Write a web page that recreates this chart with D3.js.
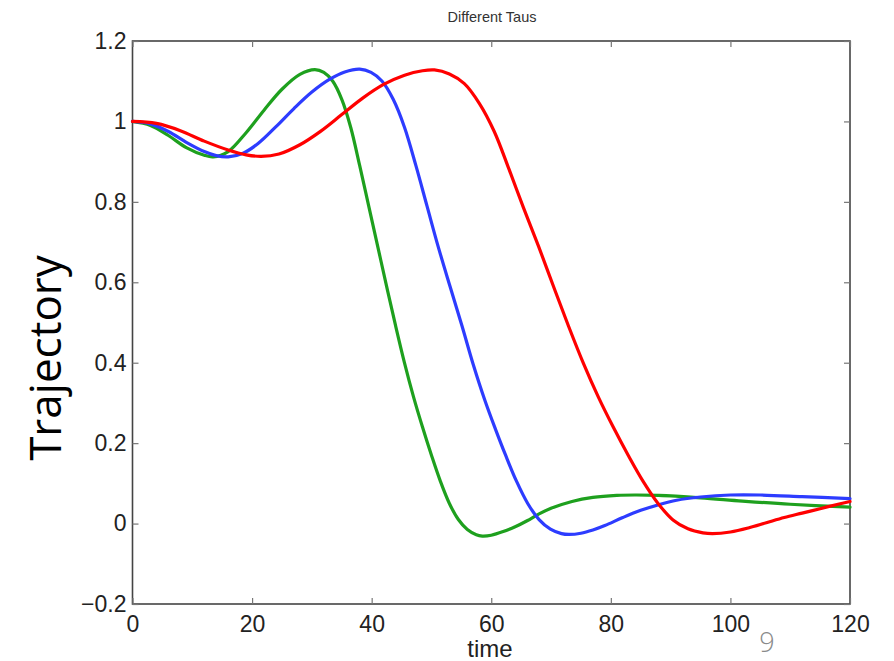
<!DOCTYPE html>
<html>
<head>
<meta charset="utf-8">
<script src="https://cdn.jsdelivr.net/npm/d3@7"></script>
<style>
  html, body { margin: 0; padding: 0; background: #fff; }
  svg { display: block; }
</style>
</head>
<body>
<svg id="chart" width="894" height="661"></svg>
<script>
// ---- data ----
const xTicks = [0, 20, 40, 60, 80, 100, 120];
const yTicks = [-0.2, 0, 0.2, 0.4, 0.6, 0.8, 1, 1.2];
const yTickLabels = ["\u22120.2", "0", "0.2", "0.4", "0.6", "0.8", "1", "1.2"];

const greenT = [0, 3, 6, 9, 12, 13.5, 16, 19, 22, 25, 28, 30.5, 32, 33.5, 35, 36.5, 38, 39.5, 41, 42.5, 44, 45.5, 47, 48.5, 50, 51.5, 53, 54.5, 56, 57.5, 58.5, 60, 62, 64, 66, 68, 70, 73.5, 77, 81, 84, 88, 95, 102, 110, 120];
const greenV = [1.0, 0.990, 0.965, 0.935, 0.916, 0.912, 0.925, 0.972, 1.028, 1.08, 1.117, 1.129, 1.122, 1.10, 1.055, 0.985, 0.89, 0.79, 0.69, 0.59, 0.492, 0.399, 0.315, 0.24, 0.17, 0.105, 0.05, 0.01, -0.015, -0.028, -0.031, -0.029, -0.02, -0.008, 0.007, 0.024, 0.038, 0.055, 0.065, 0.070, 0.071, 0.070, 0.064, 0.056, 0.048, 0.041];

const blueT = [0, 3, 6, 9, 12, 14, 16, 18.5, 21, 24, 27, 30, 33, 35.5, 38, 39.9, 41.75, 43.6, 45.5, 47.4, 49.25, 51.1, 53.1, 55.1, 57, 58.9, 60.7, 62.4, 64.2, 66.1, 68, 69.9, 71.75, 73, 75, 77, 79, 82, 85, 88, 91, 95, 100, 105, 112, 120];
const blueV = [1.0, 0.994, 0.975, 0.948, 0.925, 0.915, 0.912, 0.921, 0.945, 0.987, 1.032, 1.073, 1.105, 1.123, 1.13, 1.122, 1.10, 1.055, 0.985, 0.89, 0.79, 0.69, 0.59, 0.492, 0.395, 0.308, 0.235, 0.17, 0.106, 0.05, 0.01, -0.014, -0.025, -0.027, -0.024, -0.016, -0.005, 0.015, 0.033, 0.047, 0.058, 0.066, 0.071, 0.071, 0.067, 0.062];

const redT = [0, 4, 8, 12, 16, 19, 21.5, 24.5, 28, 31.5, 35, 38.5, 42, 45.5, 48.5, 50.5, 53, 55.5, 58, 60.5, 63, 65.4, 67.9, 70.4, 72.9, 75.4, 77.9, 80.4, 82.9, 85.4, 87.9, 90.4, 92.9, 95.4, 97, 100, 103, 106, 109, 112, 115, 118, 120];
const redV = [1.0, 0.995, 0.977, 0.951, 0.929, 0.917, 0.913, 0.919, 0.942, 0.976, 1.017, 1.058, 1.092, 1.115, 1.126, 1.128, 1.118, 1.094, 1.045, 0.975, 0.88, 0.785, 0.69, 0.59, 0.492, 0.399, 0.315, 0.24, 0.17, 0.105, 0.05, 0.009, -0.013, -0.023, -0.025, -0.021, -0.011, 0.002, 0.015, 0.026, 0.037, 0.048, 0.055];

const seriesNames = ["green", "blue", "red"];
const seriesColors = ["#1ea01e", "#2d3cff", "#ff0000"];

// ---- layout ----
const svg = d3.select("#chart");
const plotL = 132.5, plotR = 850, plotT = 41, plotB = 604;

const x = d3.scaleLinear().domain([0, 120]).range([plotL, plotR]);
const y = d3.scaleLinear().domain([-0.2, 1.2]).range([plotB, plotT]);

const axisColor = "#444";
const tickFont = "'Liberation Sans', Arial, Helvetica, sans-serif";

// frame box
svg.append("rect")
  .attr("x", plotL).attr("y", plotT)
  .attr("width", plotR - plotL).attr("height", plotB - plotT)
  .attr("fill", "none").attr("stroke", axisColor).attr("stroke-width", 1.6);

const tickLen = 6;
const gB = svg.append("g").attr("transform", `translate(0,${plotB})`)
  .call(d3.axisBottom(x).tickValues(xTicks).tickSizeInner(-tickLen).tickSizeOuter(0).tickPadding(12).tickFormat(d3.format("d")));
const gT = svg.append("g").attr("transform", `translate(0,${plotT})`)
  .call(d3.axisTop(x).tickValues(xTicks).tickSizeInner(-tickLen).tickSizeOuter(0).tickFormat(""));
const gL = svg.append("g").attr("transform", `translate(${plotL},0)`)
  .call(d3.axisLeft(y).tickValues(yTicks).tickSizeInner(-tickLen).tickSizeOuter(0).tickPadding(6)
    .tickFormat((d, i) => yTickLabels[i]));
const gR = svg.append("g").attr("transform", `translate(${plotR},0)`)
  .call(d3.axisRight(y).tickValues(yTicks).tickSizeInner(-tickLen).tickSizeOuter(0).tickFormat(""));

[gB, gT, gL, gR].forEach(g => {
  g.select(".domain").remove();
  g.selectAll(".tick line").attr("stroke", "#777").attr("stroke-width", 1.2);
  g.selectAll(".tick text")
    .attr("font-family", tickFont)
    .attr("font-size", 23)
    .attr("fill", "#222");
});

// ---- lines ----
const line = d3.line()
  .x(d => x(d[0]))
  .y(d => y(d[1]))
  .curve(d3.curveCatmullRom.alpha(0.5));

const allSeries = [
  d3.zip(greenT, greenV),
  d3.zip(blueT, blueV),
  d3.zip(redT, redV)
];

svg.append("g").selectAll("path")
  .data(allSeries)
  .join("path")
  .attr("d", line)
  .attr("fill", "none")
  .attr("stroke", (d, i) => seriesColors[i])
  .attr("stroke-width", 3.2)
  .attr("stroke-linejoin", "round")
  .attr("stroke-linecap", "round");

// ---- texts ----
svg.append("text")
  .attr("x", 492).attr("y", 22)
  .attr("text-anchor", "middle")
  .attr("font-family", tickFont)
  .attr("font-size", 14.5)
  .attr("fill", "#333")
  .text("Different Taus");

svg.append("text")
  .attr("x", 490).attr("y", 657)
  .attr("text-anchor", "middle")
  .attr("font-family", tickFont)
  .attr("font-size", 24)
  .attr("fill", "#222")
  .text("time");

svg.append("text")
  .attr("transform", `translate(61,358) rotate(-90)`)
  .attr("text-anchor", "middle")
  .attr("font-family", "'Open Sans', 'Noto Sans', sans-serif")
  .attr("font-size", 44)
  .attr("fill", "#000")
  .text("Trajectory");

svg.append("text")
  .attr("x", 767).attr("y", 652)
  .attr("text-anchor", "middle")
  .attr("font-family", "'Open Sans', 'Noto Sans', sans-serif")
  .attr("font-weight", 300)
  .attr("font-size", 27)
  .attr("fill", "#8a8a8a")
  .text("9");
</script>
</body>
</html>
